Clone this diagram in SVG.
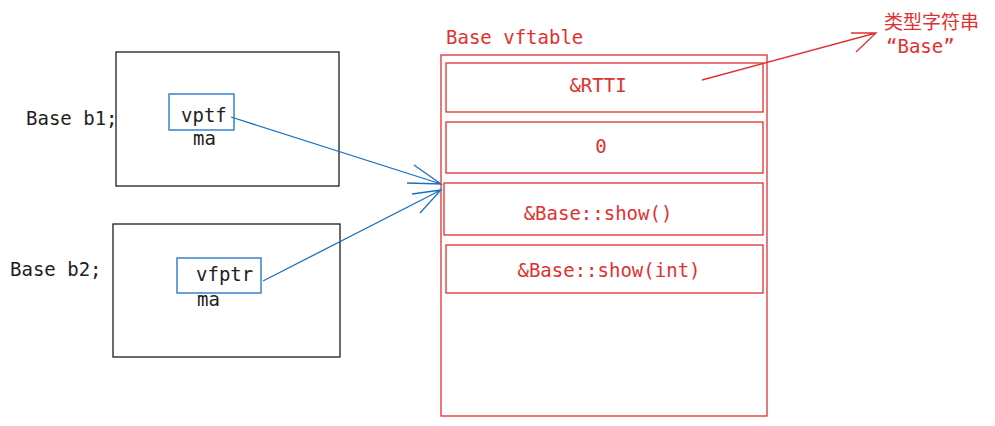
<svg xmlns="http://www.w3.org/2000/svg" width="995" height="426" viewBox="0 0 995 426">
<style>
.t{font-family:"DejaVu Sans Mono","Liberation Mono",monospace;font-size:19px;fill:#1e1e1e}
.r{font-family:"DejaVu Sans Mono","Liberation Mono",monospace;font-size:19px;fill:#e03131}
.cjk{font-family:"Noto Sans CJK SC",sans-serif;font-size:19px;fill:#e03131}
.bk{fill:none;stroke:#1e1e1e;stroke-width:1.3}
.bl{fill:none;stroke:#1971c2;stroke-width:1.3}
.rd{fill:none;stroke:#e03131;stroke-width:1.3}
</style>
<rect width="995" height="426" fill="#fff"/>
<g id="label-b1"><text class="t" x="26" y="125">Base b1;</text></g>
<g id="label-b2"><text class="t" x="10" y="276">Base b2;</text></g>
<g id="obj-b1">
<rect class="bk" x="116" y="52" width="223" height="134"/>
<g id="vptf"><rect class="bl" x="169" y="94" width="65" height="36"/><text class="t" x="181" y="122">vptf</text></g>
<text class="t" x="193" y="145">ma</text>
</g>
<g id="obj-b2">
<rect class="bk" x="113" y="224" width="227" height="133"/>
<g id="vfptr"><rect class="bl" x="177" y="258" width="84" height="35"/><text class="t" x="196" y="281">vfptr</text></g>
<text class="t" x="197" y="306">ma</text>
</g>
<g id="vftable">
<text class="r" x="446" y="44">Base vftable</text>
<rect class="rd" x="441" y="55" width="326" height="361"/>
<g id="row-rtti"><rect class="rd" x="446" y="63" width="317" height="49"/><text class="r" x="598" y="92" text-anchor="middle">&amp;RTTI</text></g>
<g id="row-0"><rect class="rd" x="446" y="122" width="317" height="51"/><text class="r" x="601" y="153" text-anchor="middle">0</text></g>
<g id="row-show"><rect class="rd" x="444" y="183" width="319" height="52"/><text class="r" x="598" y="220" text-anchor="middle">&amp;Base::show()</text></g>
<g id="row-showint"><rect class="rd" x="446" y="245" width="317" height="48"/><text class="r" x="609" y="277" text-anchor="middle">&amp;Base::show(int)</text></g>
</g>
<g id="rtti-note">
<text class="cjk" x="884" y="29">类型字符串</text>
<text class="r" x="886" y="53">“Base”</text>
</g>
<g id="connectors">
<path class="bl" d="M231 117 L441 184 M414 165 L441 184 L407 183"/>
<path class="bl" d="M263 281 L441 190 M412 194 L441 190 L420 213"/>
<path class="rd" d="M702 80 L876 33 M851 33 L876 33 L856 52"/>
</g>
</svg>
